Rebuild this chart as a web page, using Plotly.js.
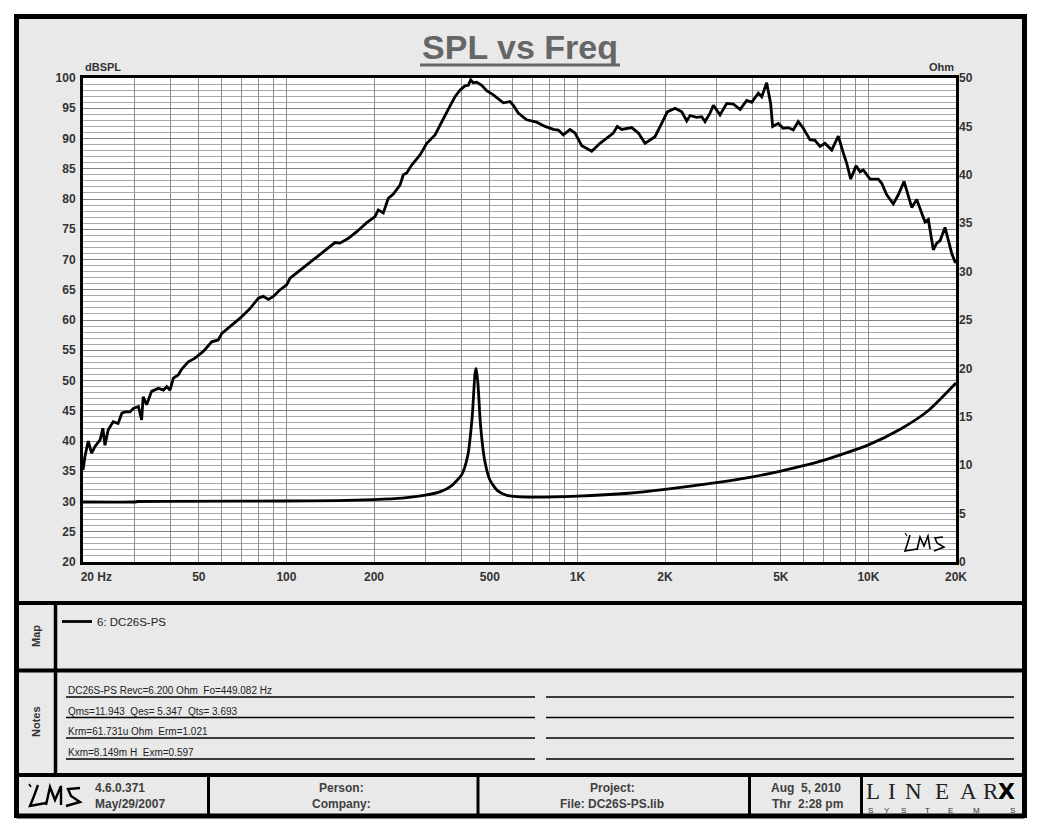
<!DOCTYPE html>
<html>
<head>
<meta charset="utf-8">
<script src="https://cdn.plot.ly/plotly-3.0.1.min.js"></script>
<style>html,body{margin:0;padding:0;background:#fff;}#chart{width:1040px;height:832px;}</style>
</head>
<body>
<div id="chart"></div>
<script>
// ---------------- data ----------------
const splFreq = [20,20.3,20.85,21.4,22.0,22.9,23.4,23.8,24.4,25.4,26.4,27.2,27.9,29.0,29.8,31.0,31.8,32.2,33.1,34.4,36.3,37.8,38.8,39.8,40.9,42.5,43.7,46.0,48.5,51.8,55.4,58.3,60.0,64.0,69.3,75.0,80.1,83.3,86.7,90.2,95.1,100.2,102.9,109.9,117.4,127.1,137.6,146.9,152.8,163.3,174.5,188.9,201.6,206.9,215.3,223.9,233.0,245.7,252.2,259.1,269.5,287.9,303.6,324.2,337.3,355.7,369.8,379.6,394.9,410.8,421.8,429.8,438.7,450.7,469.0,487.9,514.1,556.4,586.7,602.2,626.5,669.2,724.6,773.9,826.6,859.9,894.5,943.2,981.3,1035,1120,1196,1277,1329,1371,1420,1537,1620,1708,1848,1948,2037,2165,2283,2375,2438,2570,2674,2745,2856,2932,3091,3259,3434,3621,3818,3972,4185,4299,4471,4614,4688,4900,5098,5303,5518,5740,5973,6297,6553,6817,7093,7480,7880,8200,8424,8694,9068,9360,9607,10130,10816,11111,11560,12178,12670,13256,13607,14090,14658,15248,15652,16067,16715,17170,17624,18334,18818,19335,19843,20000];
const splDb = [35.2,37.4,40.0,38.0,39.1,40.2,42.1,39.3,41.8,43.2,42.9,44.6,44.8,44.8,45.4,45.7,43.5,47.3,46.0,48.2,48.7,48.4,49.0,48.4,50.4,50.9,51.9,53.1,53.7,54.8,56.4,56.7,57.8,58.9,60.3,61.9,63.6,63.9,63.4,63.9,65.0,65.8,66.9,68.0,69.1,70.4,71.7,72.8,72.7,73.5,74.6,76.1,77.1,78.2,77.7,80.1,80.8,82.3,84.0,84.3,85.6,87.3,89.2,90.6,92.2,94.2,95.9,96.9,98.0,98.7,98.8,99.7,99.2,99.3,98.8,97.9,97.2,95.9,96.1,95.5,94.2,93.1,92.7,92.0,91.5,91.4,90.6,91.5,90.9,88.8,87.9,89.2,90.3,90.9,92.0,91.5,91.8,90.9,89.2,90.3,92.5,94.4,95.0,94.4,92.9,93.8,93.5,93.6,92.8,94.2,95.5,93.9,95.8,95.7,94.8,96.3,96.0,97.5,96.9,99.2,95.8,92.0,92.5,91.7,91.8,91.4,92.8,91.7,89.8,89.7,88.7,89.2,88.1,90.4,87.6,85.9,83.3,85.5,84.5,84.8,83.3,83.3,82.6,80.7,79.2,80.7,82.9,81.2,78.6,79.9,77.6,76.2,76.6,71.6,72.7,73.1,75.3,73.2,71.0,69.6,69.5];

const impFreq = [20,30,31,100,150,200,250,300,340,370,400,420,435,445,449,455,465,480,500,530,570,620,700,1000,1500,2000,3000,4000,5000,7000,10000,13000,16000,20000];
const impOhm  = [6.2,6.2,6.25,6.3,6.35,6.45,6.6,6.9,7.3,7.9,9.0,11.0,15.0,19.5,20.0,18.5,14.0,10.5,8.5,7.4,6.9,6.75,6.7,6.8,7.1,7.5,8.2,8.8,9.4,10.5,12.1,13.8,15.6,18.5];

const xTickVals = [20,30,40,50,60,70,80,90,100,200,300,400,500,600,700,800,900,1000,2000,3000,4000,5000,6000,7000,8000,9000,10000,20000];
const xTickText = ['\u00a0\u00a0\u00a0\u00a0\u00a0\u00a0\u00a0\u00a020 Hz','','','50','','','','','100','200','','','500','','','','','1K','2K','','','5K','','','','','10K','20K'];

const seriesName = '6: DC26S-PS';
const noteLines = ['DC26S-PS Revc=6.200 Ohm  Fo=449.082 Hz','Qms=11.943  Qes= 5.347  Qts= 3.693','Krm=61.731u Ohm  Erm=1.021','Kxm=8.149m H  Exm=0.597'];

// ---------------- layout helpers (pixel -> paper) ----------------
const L=83, R=956, T=78, B=562;
const X = px => (px-L)/(R-L);
const Y = py => (B-py)/(B-T);
const FONT = 'Liberation Sans, Arial, sans-serif';

function rect(x0,y0,x1,y1,fill){return {type:'rect',xref:'paper',yref:'paper',x0:X(x0),x1:X(x1),y0:Y(y0),y1:Y(y1),fillcolor:fill,line:{width:0},layer:'below'};}
function seg(x0,y0,x1,y1,w,c){return {type:'line',xref:'paper',yref:'paper',x0:X(x0),x1:X(x1),y0:Y(y0),y1:Y(y1),line:{color:c||'#000',width:w},layer:'above'};}
function pth(pts,w){return {type:'path',xref:'paper',yref:'paper',path:'M'+pts.map(p=>X(p[0])+','+Y(p[1])).join(' L'),line:{color:'#000',width:w},layer:'above'};}
function ann(text,px,py,opt){
  opt=opt||{};
  return Object.assign({text:text,xref:'paper',yref:'paper',x:X(px),y:Y(py),showarrow:false,
    xanchor:opt.xa||'center',yanchor:opt.ya||'middle',
    font:{family:opt.family||FONT,size:opt.size||12,color:opt.color||'#404040',weight:opt.weight||'normal'}},
    opt.angle!==undefined?{textangle:opt.angle}:{});
}

const shapes = [
  // white outside frame
  rect(0,0,1040,14,'#fff'), rect(0,818,1040,832,'#fff'),
  rect(0,0,14,832,'#fff'), rect(1027,0,1040,832,'#fff'),
  // outer frame
  seg(16.5,16.5,1024.5,16.5,5), seg(16.5,816,1024.5,816,5),
  seg(16.5,14,16.5,818,5), seg(1024.5,14,1024.5,818,5),
  // section dividers
  seg(14,603,1027,603,4), seg(14,670.5,1027,670.5,4), seg(14,775,1027,775,4),
  seg(55.5,603,55.5,775,3.5),
  seg(208.5,775,208.5,816,3), seg(478,775,478,816,3), seg(749.5,775,749.5,816,3), seg(861.5,775,861.5,816,3),
  // title underline
  seg(420,65,620,65,3,'#666'),
];
// notes underlines
[697,717.5,738,759].forEach(yy=>{shapes.push(seg(66,yy,535,yy,1.3)); shapes.push(seg(546,yy,1014,yy,1.3));});
// LMS script logo (in plot)
shapes.push(pth([[910,535],[907,545],[905,551],[917,549]],1.6));
shapes.push(pth([[917,550],[920,537],[924,546],[928,536],[930,549]],1.6));
shapes.push(pth([[943,537],[935,538],[937,543],[944,547],[934,551]],1.6));
shapes.push(pth([[905,533],[907,536]],1.2));
// LMS script logo (footer)
shapes.push(pth([[29,784],[31,787]],1.6));
shapes.push(pth([[38,785],[34,796],[30,806],[46,803]],2.4));
shapes.push(pth([[46,805],[50,787],[55,800],[61,786],[61,805]],2.4));
shapes.push(pth([[80,788],[68,789],[71,796],[80,802],[66,806]],2.4));

const annotations = [
  ann('<b>dBSPL</b>',83,67,{xa:'left',size:11,color:'#333'}),
  ann('<b>Ohm</b>',956,67,{xa:'right',size:11,color:'#333'}),
  ann('<b>Map</b>',36,636,{angle:-90,size:11,color:'#333'}),
  ann('<b>Notes</b>',36,722,{angle:-90,size:11,color:'#333'}),
  ann('<b>4.6.0.371</b>',93,788,{xa:'left'}),
  ann('<b>May/29/2007</b>',93,804,{xa:'left'}),
  ann('<b>Person:</b>',341,788),
  ann('<b>Company:</b>',341,804),
  ann('<b>Project:</b>',612,788),
  ann('<b>File: DC26S-PS.lib</b>',612,804),
  ann('<b>Aug  5, 2010</b>'.replace('  ','\u00a0 '),806,788),
  ann('<b>Thr  2:28 pm</b>'.replace('  ','\u00a0 '),807,804),
];
// notes text
[690.5,711,731.5,752.5].forEach((yy,i)=>annotations.push(ann(noteLines[i].replace(/  /g,'\u00a0 '),66,yy,{xa:'left',size:10,color:'#222'})));
// LINEAR X logo
[['L',873],['I',892],['N',913],['E',942],['A',968],['R',991]].forEach(p=>annotations.push(ann(p[0],p[1],791,{family:'Liberation Serif, DejaVu Serif, serif',size:23,color:'#222'})));
annotations.push(ann('<b>X</b>',1006,791,{family:'DejaVu Sans, sans-serif',size:22,color:'#000'}));
[['S',870],['Y',887],['S',903],['T',927],['E',950],['M',977],['S',1012]].forEach(p=>annotations.push(ann(p[0],p[1],810,{size:8,color:'#333'})));

const traces = [
  {x:splFreq,y:splDb,type:'scatter',mode:'lines',name:seriesName,line:{color:'#000',width:2.8},showlegend:true},
  {x:impFreq,y:impOhm,type:'scatter',mode:'lines',name:seriesName,yaxis:'y2',line:{color:'#000',width:2.8,shape:'spline',smoothing:0.6},showlegend:false}
];

const tickFont = {family:FONT,size:12,color:'#333',weight:'bold'};
const layout = {
  width:1040,height:832,
  margin:{l:L,r:1040-R,t:T,b:832-B,pad:0},
  paper_bgcolor:'#e9e9e9',plot_bgcolor:'#ffffff',
  title:{text:'<b>SPL vs Freq</b>',font:{family:FONT,size:34,color:'#666'},x:0.5,xref:'container',xanchor:'center',y:1-47/832,yref:'container',yanchor:'middle'},
  showlegend:true,
  legend:{x:X(57),y:Y(607),xanchor:'left',yanchor:'top',bgcolor:'rgba(0,0,0,0)',font:{family:FONT,size:11.5,color:'#222'}},
  xaxis:{type:'log',range:[Math.log10(20),Math.log10(20000)],tickmode:'array',tickvals:xTickVals,ticktext:xTickText,
    ticks:'',showgrid:true,gridcolor:'#8c8c8c',gridwidth:1,zeroline:false,showline:true,linecolor:'#000',linewidth:3,mirror:true,
    tickfont:tickFont,ticklabelstandoff:2,fixedrange:true},
  yaxis:{range:[20,100],tick0:20,dtick:5,ticks:'',showgrid:true,gridcolor:'#808080',gridwidth:1,
    minor:{dtick:1,showgrid:true,gridcolor:'#a8a8a8',gridwidth:1,ticks:''},
    zeroline:false,showline:true,linecolor:'#000',linewidth:3,mirror:true,tickfont:tickFont,ticklabelstandoff:2,fixedrange:true},
  yaxis2:{range:[0,50],tick0:0,dtick:5,overlaying:'y',side:'right',ticks:'',showgrid:false,zeroline:false,showline:false,
    tickfont:tickFont,ticklabelstandoff:2,fixedrange:true},
  shapes:shapes,annotations:annotations
};
Plotly.newPlot('chart',traces,layout,{displayModeBar:false,staticPlot:true});
</script>
</body>
</html>
